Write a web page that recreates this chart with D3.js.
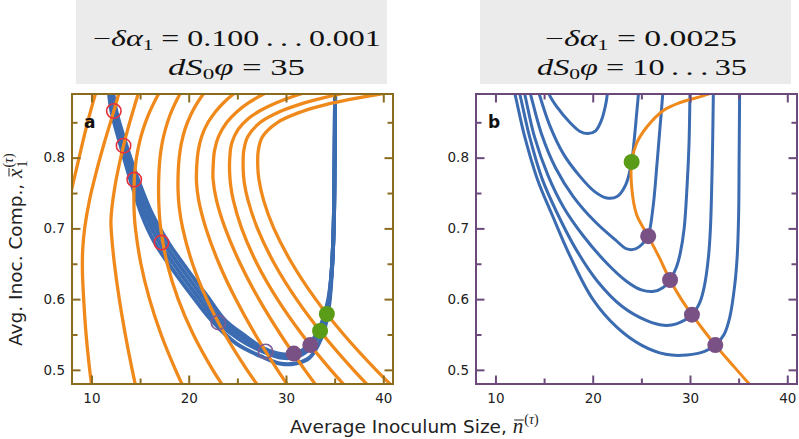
<!DOCTYPE html>
<html><head><meta charset="utf-8">
<script src="https://cdn.jsdelivr.net/npm/d3@7"></script>
<style>body{margin:0;background:#fff}svg{display:block}</style>
</head><body>
<svg id="c" width="799" height="439"></svg>
<script>
// ---------- data ----------
const xDomain = [8, 41];
const yDomain = [0.48, 0.89];
const xTickValues = [10, 20, 30, 40];
const xMinorTicks = [15, 25, 35];
const yTickValues = [0.5, 0.6, 0.7, 0.8];
const yMinorTicks = [0.55, 0.65, 0.75, 0.85];

// panel a: orange curves (x = average inoculum size, y = composition)
const orangeA0 = [[6.9,0.68],[7.3,0.71],[7.8,0.745],[8.3,0.775],[8.9,0.81],[9.6,0.85],[10.4,0.89],[10.6,0.90]];
const orangeA1 = [[10.1,0.47],[9.82,0.50],[9.45,0.55],[9.2,0.60],[9.07,0.64],[9.1,0.67],[9.3,0.70],[9.8,0.74],[10.5,0.78],[11.3,0.82],[12.0,0.852],[12.3,0.866],[12.8,0.89],[13.0,0.90]];
const orangeA2 = [[14.66,0.47],[14.19,0.50],[13.48,0.55],[12.86,0.60],[12.36,0.65],[12.07,0.69],[12.0,0.71],[12.11,0.73],[12.42,0.76],[12.85,0.79],[13.3,0.817],[13.73,0.84],[14.25,0.865],[14.8,0.89],[15.03,0.90]];
const orangeA3 = [[19.65,0.47],[18.64,0.50],[17.16,0.55],[15.97,0.60],[15.08,0.65],[14.52,0.70],[14.4,0.72],[14.36,0.74],[14.4,0.769],[14.46,0.78],[14.63,0.80],[14.91,0.82],[15.31,0.84],[15.84,0.86],[16.33,0.875],[16.9,0.89],[17.33,0.90]];
const orangeA4 = [[23.89,0.47],[22.47,0.50],[20.47,0.55],[18.91,0.60],[17.79,0.65],[17.12,0.70],[16.96,0.725],[16.9,0.75],[16.94,0.78],[17.05,0.80],[17.26,0.82],[17.6,0.84],[18.07,0.86],[18.54,0.875],[19.1,0.89],[19.53,0.90]];
const orangeA5 = [[27.53,0.47],[25.99,0.50],[23.73,0.55],[21.85,0.60],[20.39,0.65],[19.38,0.70],[19.02,0.73],[18.9,0.755],[18.92,0.78],[19.02,0.80],[19.24,0.82],[19.61,0.84],[20.19,0.86],[20.77,0.875],[21.5,0.89],[22.08,0.90]];
const orangeA6 = [[30.6,0.47],[29.12,0.50],[26.84,0.55],[24.83,0.60],[23.12,0.65],[21.77,0.70],[21.02,0.74],[20.8,0.765],[20.83,0.79],[20.98,0.81],[21.33,0.83],[21.99,0.85],[22.75,0.865],[23.61,0.878],[24.6,0.89],[25.59,0.90]];
const orangeA7 = [[33.55,0.47],[31.93,0.50],[29.44,0.55],[27.21,0.60],[25.3,0.65],[23.75,0.70],[22.85,0.74],[22.5,0.77],[22.52,0.79],[22.65,0.81],[23.07,0.83],[23.92,0.85],[24.96,0.865],[26.21,0.878],[27.7,0.89],[29.22,0.90]];
const orangeA8 = [[36.57,0.47],[34.6,0.50],[31.65,0.55],[29.11,0.60],[27.02,0.65],[25.44,0.70],[24.58,0.74],[24.32,0.76],[24.2,0.78],[24.22,0.80],[24.41,0.82],[25.08,0.84],[26.11,0.855],[27.41,0.867],[28.9,0.877],[31.5,0.89],[34.1,0.90]];
const orangeA9 = [[39.0,0.47],[36.93,0.50],[33.79,0.55],[31.07,0.60],[28.81,0.65],[27.06,0.70],[26.09,0.74],[25.71,0.765],[25.6,0.783],[25.66,0.81],[26.08,0.83],[27.37,0.85],[29.34,0.865],[31.32,0.875],[33.1,0.882],[35.6,0.89],[39.52,0.90]];
const orangeA10 = [[41.45,0.47],[39.25,0.50],[35.93,0.55],[33.04,0.60],[30.64,0.65],[28.75,0.70],[27.69,0.74],[27.21,0.77],[27.1,0.787],[27.15,0.81],[27.6,0.83],[29.15,0.85],[31.6,0.865],[34.1,0.875],[36.43,0.882],[39.7,0.89],[44.85,0.90]];

// panel a: blue trajectories forming the band
const blueA1 = [[11.75,0.90],[12.05,0.866],[13.0,0.817],[14.0,0.769],[15.15,0.72],[16.5,0.68],[18.45,0.64],[20.45,0.603],[22.35,0.57],[24.9,0.537],[27.7,0.5175],[29.5,0.5085],[31.0,0.509],[32.4,0.517],[33.3,0.535],[34.0,0.56],[34.45,0.593],[34.72,0.64],[34.9,0.7],[35.0,0.8],[35.05,0.90]];
const blueA2 = [[11.88,0.90],[12.22,0.866],[13.2,0.817],[14.27,0.769],[15.52,0.72],[16.97,0.68],[18.95,0.64],[20.95,0.603],[22.82,0.57],[25.2,0.543],[27.7,0.5255],[29.6,0.517],[31.0,0.518],[32.3,0.528],[33.2,0.545],[33.9,0.566],[34.4,0.596],[34.7,0.64],[34.9,0.7],[35.0,0.8],[35.05,0.90]];
const blueA3 = [[12.02,0.90],[12.38,0.866],[13.4,0.817],[14.53,0.769],[15.88,0.72],[17.43,0.68],[19.45,0.64],[21.45,0.603],[23.28,0.57],[25.45,0.547],[27.7,0.5285],[29.6,0.52],[31.0,0.521],[32.25,0.531],[33.15,0.548],[33.85,0.569],[34.38,0.598],[34.7,0.64],[34.9,0.7],[35.0,0.8],[35.05,0.90]];
const blueA4 = [[12.15,0.90],[12.55,0.866],[13.6,0.817],[14.8,0.769],[16.25,0.72],[17.9,0.68],[19.95,0.64],[21.95,0.603],[23.75,0.57],[25.7,0.549],[27.7,0.5305],[29.6,0.522],[31.0,0.523],[32.2,0.533],[33.1,0.55],[33.8,0.571],[34.35,0.6],[34.7,0.64],[34.9,0.7],[35.0,0.8],[35.05,0.90]];

const redOpenA = [[12.3,0.866],[13.3,0.817],[14.4,0.769],[17.2,0.68]];
const purpleOpenA = [[23.05,0.567],[27.9,0.526]];
const purpleFilledA = [[30.8,0.523],[32.5,0.535]];
const greenFilledA = [[33.5,0.555],[34.2,0.579]];

// panel b: blue U-curves
const blueB1 = [[15.3,0.90],[15.5,0.89],[16.3,0.872],[17.7,0.849],[18.7,0.837],[19.5,0.834],[20.3,0.838],[20.9,0.853],[21.3,0.873],[21.5,0.89],[21.55,0.90]];
const blueB2 = [[14.3,0.90],[14.5,0.89],[15.6,0.845],[17.0,0.805],[18.6,0.775],[20.2,0.752],[21.45,0.743],[22.5,0.745],[23.4,0.762],[24.0,0.794],[24.3,0.83],[24.5,0.86],[24.7,0.89],[24.75,0.90]];
const blueB3 = [[13.4,0.90],[13.6,0.89],[14.7,0.835],[16.2,0.785],[18.0,0.745],[20.2,0.71],[22.3,0.684],[23.5,0.671],[24.4,0.671],[25.1,0.678],[25.7,0.69],[26.2,0.73],[26.6,0.79],[26.9,0.84],[27.2,0.89],[27.25,0.90]];
const blueB4 = [[12.8,0.90],[13.0,0.89],[14.0,0.83],[15.4,0.775],[17.0,0.73],[19.0,0.69],[21.5,0.65],[23.5,0.625],[25.0,0.613],[26.3,0.611],[27.2,0.616],[27.95,0.627],[28.6,0.645],[29.0,0.665],[29.4,0.7],[29.7,0.76],[29.9,0.82],[30.0,0.89],[30.02,0.90]];
const blueB5 = [[12.3,0.90],[12.5,0.89],[13.5,0.83],[14.8,0.77],[16.4,0.72],[18.3,0.67],[20.5,0.625],[23.0,0.59],[25.5,0.57],[27.3,0.563],[28.6,0.565],[30.2,0.578],[31.0,0.595],[31.5,0.62],[31.9,0.66],[32.1,0.7],[32.3,0.8],[32.4,0.89],[32.42,0.90]];
const blueB6 = [[11.8,0.90],[12.0,0.89],[13.0,0.83],[14.3,0.77],[15.8,0.72],[17.7,0.66],[20.0,0.60],[22.5,0.56],[25.0,0.535],[27.5,0.522],[29.7,0.521],[31.5,0.526],[32.6,0.535],[33.5,0.55],[34.1,0.575],[34.6,0.62],[34.85,0.66],[35.0,0.72],[35.05,0.8],[35.1,0.89],[35.1,0.90]];

// panel b: orange curve
const orangeB = [[33.5,0.90],[31.7,0.889],[29.0,0.878],[27.3,0.867],[25.6,0.844],[24.5,0.82],[24.0,0.794],[24.0,0.759],[24.5,0.72],[25.7,0.689],[26.8,0.66],[27.95,0.627],[29.1,0.60],[30.2,0.578],[31.4,0.556],[32.6,0.535],[34.3,0.508],[36.1,0.48],[36.8,0.47]];
const greenFilledB = [[24.0,0.794]];
const purpleFilledB = [[25.7,0.689],[27.95,0.627],[30.2,0.578],[32.6,0.535]];

const titleA1 = ["\u2212", "\u03B4\u03B1", "1", " = 0.100\u2009.\u2009.\u2009.\u20090.001"];
const titleA2 = ["dS", "0", "\u03C6", " = 35"];
const titleB1 = ["\u2212", "\u03B4\u03B1", "1", " = 0.0025"];
const titleB2 = ["dS", "0", "\u03C6", " = 10\u2009.\u2009.\u2009.\u200935"];

// ---------- drawing ----------
const svg = d3.select('#c');
svg.append('rect').attr('width', 799).attr('height', 439).attr('fill', '#fff');

const COL = {orange:'#f0891b', blue:'#3b6bb0', green:'#5a9c17', purple:'#7a5185', purpleLight:'#7d5c93', red:'#e5323c'};

const panels = [
  {id:'a', left:72, right:393, top:94, bottom:384, frame:'#8b6c1e', box:[76,387], t1:titleA1, t2:titleA2,
   w1:[237,288], w2:[236.5,137]},
  {id:'b', left:476, right:797, top:94, bottom:384, frame:'#6b4a7b', box:[480,791], t1:titleB1, t2:titleB2,
   w1:[641,192], w2:[642,210]}
];

function fitTitle(text, cx, width) {
  const bb = text.node().getBBox();
  const s = width / bb.width;
  text.attr('transform', `translate(${cx - (bb.x + bb.width / 2) * s},0) scale(${s},1)`);
}

function titleLine(g, parts, baseline, kind) {
  const t = g.append('text').attr('x', 0).attr('y', baseline)
    .attr('font-family', 'Liberation Serif').attr('font-size', 22.5).attr('fill', '#111');
  if (kind === 1) {
    t.append('tspan').text(parts[0]);
    t.append('tspan').attr('font-style', 'italic').text(parts[1]);
    t.append('tspan').attr('font-size', 15).attr('dy', 4).text(parts[2]);
    t.append('tspan').attr('dy', -4).text(parts[3]);
  } else {
    t.append('tspan').attr('font-style', 'italic').text(parts[0]);
    t.append('tspan').attr('font-size', 15).attr('dy', 4).text(parts[1]);
    t.append('tspan').attr('font-style', 'italic').attr('dy', -4).text(parts[2]);
    t.append('tspan').text(parts[3]);
  }
  return t;
}

panels.forEach((p) => {
  const x = d3.scaleLinear().domain(xDomain).range([p.left, p.right]);
  const y = d3.scaleLinear().domain(yDomain).range([p.bottom, p.top]);
  const line = d3.line().x(d => x(d[0])).y(d => y(d[1])).curve(d3.curveCatmullRom.alpha(0.5));

  // title box
  const tg = svg.append('g');
  tg.append('rect').attr('x', p.box[0]).attr('y', 0).attr('width', p.box[1] - p.box[0]).attr('height', 84).attr('fill', '#ebebeb');
  fitTitle(titleLine(tg, p.t1, 46, 1), p.w1[0], p.w1[1]);
  fitTitle(titleLine(tg, p.t2, 75, 2), p.w2[0], p.w2[1]);

  // clip
  svg.append('clipPath').attr('id', 'clip' + p.id).append('rect')
    .attr('x', p.left).attr('y', p.top).attr('width', p.right - p.left).attr('height', p.bottom - p.top);
  const plot = svg.append('g').attr('clip-path', `url(#clip${p.id})`);

  if (p.id === 'a') {
    [blueA1, blueA2, blueA3, blueA4].forEach(d => plot.append('path').attr('d', line(d))
      .attr('fill', 'none').attr('stroke', COL.blue).attr('stroke-width', 4));
    [orangeA0, orangeA1, orangeA2, orangeA3, orangeA4, orangeA5, orangeA6, orangeA7, orangeA8, orangeA9, orangeA10]
      .forEach(d => plot.append('path').attr('d', line(d)).attr('fill', 'none')
        .attr('stroke', COL.orange).attr('stroke-width', 3.3));
    plot.selectAll('.ro').data(redOpenA).join('circle').attr('cx', d => x(d[0])).attr('cy', d => y(d[1]))
      .attr('r', 7.2).attr('fill', 'none').attr('stroke', COL.red).attr('stroke-width', 1.6);
    plot.selectAll('.po').data(purpleOpenA).join('circle').attr('cx', d => x(d[0])).attr('cy', d => y(d[1]))
      .attr('r', 7.2).attr('fill', 'none').attr('stroke', COL.purpleLight).attr('stroke-width', 1.6);
    plot.selectAll('.pf').data(purpleFilledA).join('circle').attr('cx', d => x(d[0])).attr('cy', d => y(d[1]))
      .attr('r', 8).attr('fill', COL.purple);
    plot.selectAll('.gf').data(greenFilledA).join('circle').attr('cx', d => x(d[0])).attr('cy', d => y(d[1]))
      .attr('r', 8).attr('fill', COL.green);
  } else {
    [blueB1, blueB2, blueB3, blueB4, blueB5, blueB6].forEach(d => plot.append('path').attr('d', line(d))
      .attr('fill', 'none').attr('stroke', COL.blue).attr('stroke-width', 3));
    plot.append('path').attr('d', line(orangeB)).attr('fill', 'none').attr('stroke', COL.orange).attr('stroke-width', 3);
    plot.selectAll('.gf').data(greenFilledB).join('circle').attr('cx', d => x(d[0])).attr('cy', d => y(d[1]))
      .attr('r', 8).attr('fill', COL.green);
    plot.selectAll('.pf').data(purpleFilledB).join('circle').attr('cx', d => x(d[0])).attr('cy', d => y(d[1]))
      .attr('r', 8).attr('fill', COL.purple);
  }

  // axes (inner ticks on all sides)
  const style = (s, labels) => {
    s.select('.domain').remove();
    s.selectAll('line').attr('stroke', p.frame).attr('stroke-width', 2);
    s.selectAll('text').attr('font-family', 'DejaVu Sans').attr('font-size', 13.5).attr('fill', '#222');
    if (!labels) s.selectAll('text').remove();
  };
  svg.append('g').attr('transform', `translate(0,${p.bottom})`)
    .call(d3.axisBottom(x).tickValues(xTickValues).tickSizeInner(-8.5).tickSizeOuter(0).tickPadding(9).tickFormat(d3.format('d')))
    .call(s => style(s, true));
  svg.append('g').attr('transform', `translate(0,${p.bottom})`)
    .call(d3.axisBottom(x).tickValues(xMinorTicks).tickSizeInner(-5.5).tickSizeOuter(0).tickFormat(''))
    .call(s => style(s, false));
  svg.append('g').attr('transform', `translate(0,${p.top})`)
    .call(d3.axisTop(x).tickValues(xTickValues).tickSizeInner(-8.5).tickSizeOuter(0).tickFormat(''))
    .call(s => style(s, false));
  svg.append('g').attr('transform', `translate(0,${p.top})`)
    .call(d3.axisTop(x).tickValues(xMinorTicks).tickSizeInner(-5.5).tickSizeOuter(0).tickFormat(''))
    .call(s => style(s, false));
  svg.append('g').attr('transform', `translate(${p.left},0)`)
    .call(d3.axisLeft(y).tickValues(yTickValues).tickSizeInner(-8.5).tickSizeOuter(0).tickPadding(7).tickFormat(d3.format('.1f')))
    .call(s => style(s, true));
  svg.append('g').attr('transform', `translate(${p.left},0)`)
    .call(d3.axisLeft(y).tickValues(yMinorTicks).tickSizeInner(-5.5).tickSizeOuter(0).tickFormat(''))
    .call(s => style(s, false));
  svg.append('g').attr('transform', `translate(${p.right},0)`)
    .call(d3.axisRight(y).tickValues(yTickValues).tickSizeInner(-8.5).tickSizeOuter(0).tickFormat(''))
    .call(s => style(s, false));
  svg.append('g').attr('transform', `translate(${p.right},0)`)
    .call(d3.axisRight(y).tickValues(yMinorTicks).tickSizeInner(-5.5).tickSizeOuter(0).tickFormat(''))
    .call(s => style(s, false));

  // frame
  svg.append('rect').attr('x', p.left).attr('y', p.top).attr('width', p.right - p.left).attr('height', p.bottom - p.top)
    .attr('fill', 'none').attr('stroke', p.frame).attr('stroke-width', 2);

  // panel letter
  svg.append('text').attr('x', p.left + 12).attr('y', 128).attr('font-family', 'DejaVu Sans')
    .attr('font-weight', 'bold').attr('font-size', 17).attr('fill', '#111').text(p.id);
});

// x axis label
const xl = svg.append('text').attr('x', 290).attr('y', 433).attr('font-family', 'DejaVu Sans')
  .attr('font-size', 18.5).attr('fill', '#222');
const xlMain = 'Average Inoculum Size, ';
xl.append('tspan').text(xlMain);
xl.append('tspan').attr('font-family', 'Liberation Serif').attr('font-style', 'italic').attr('font-size', 21).text('n');
xl.append('tspan').attr('font-family', 'Liberation Serif').attr('font-size', 14).attr('dy', -9).attr('dx', 1).text('(');
xl.append('tspan').attr('font-family', 'Liberation Serif').attr('font-style', 'italic').attr('font-size', 14).text('\u03C4');
xl.append('tspan').attr('font-family', 'Liberation Serif').attr('font-size', 14).text(')');
{
  const e = xl.node().getExtentOfChar(xlMain.length);
  svg.append('line').attr('x1', e.x + 1.5).attr('x2', e.x + e.width + 0.5).attr('y1', 433 - 13).attr('y2', 433 - 13)
    .attr('stroke', '#222').attr('stroke-width', 1);
}

// y axis label (rotated)
const yg = svg.append('g').attr('transform', 'translate(22,346) rotate(-90)');
const yl = yg.append('text').attr('x', 0).attr('y', 0).attr('font-family', 'DejaVu Sans')
  .attr('font-size', 18.5).attr('fill', '#222');
const ylMain = 'Avg. Inoc. Comp., ';
yl.append('tspan').text(ylMain);
yl.append('tspan').attr('font-family', 'Liberation Serif').attr('font-style', 'italic').attr('font-size', 21).text('x');
yl.append('tspan').attr('font-family', 'Liberation Serif').attr('font-size', 14).attr('dy', -9).attr('dx', 1).text('(');
yl.append('tspan').attr('font-family', 'Liberation Serif').attr('font-style', 'italic').attr('font-size', 14).text('\u03C4');
yl.append('tspan').attr('font-family', 'Liberation Serif').attr('font-size', 14).text(')');
{
  const e = yl.node().getExtentOfChar(ylMain.length);
  yg.append('line').attr('x1', e.x + 1.5).attr('x2', e.x + e.width + 0.5).attr('y1', -13).attr('y2', -13)
    .attr('stroke', '#222').attr('stroke-width', 1);
  yg.append('text').attr('x', e.x + e.width + 1).attr('y', 5).attr('font-family', 'Liberation Serif')
    .attr('font-size', 14).attr('fill', '#222').text('1');
}
</script>
</body></html>
